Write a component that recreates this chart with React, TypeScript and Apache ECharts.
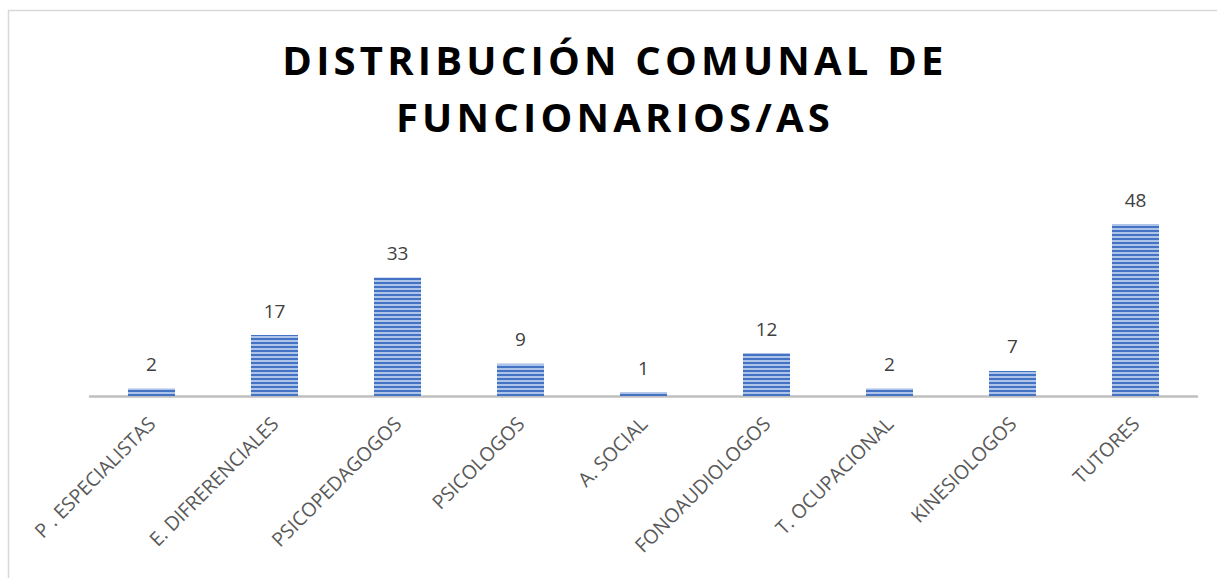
import React, { useEffect, useRef } from "react";
import * as echarts from "echarts";

const categories = [
  "P . ESPECIALISTAS",
  "E. DIFRERENCIALES",
  "PSICOPEDAGOGOS",
  "PSICOLOGOS",
  "A. SOCIAL",
  "FONOAUDIOLOGOS",
  "T. OCUPACIONAL",
  "KINESIOLOGOS",
  "TUTORES",
];
const values = [2, 17, 33, 9, 1, 12, 2, 7, 48];
const titleLines = ["DISTRIBUCIÓN COMUNAL DE", "FUNCIONARIOS/AS"];

export default function App() {
  const ref = useRef<HTMLDivElement>(null);
  useEffect(() => {
    document.body.style.margin = "0";
    if (!ref.current) return;
    const chart = echarts.init(ref.current, null, { renderer: "svg" });
    chart.setOption({
      animation: false,
      backgroundColor: "#ffffff",
      aria: { enabled: false, decal: { show: true } },
      title: {
        text: titleLines.join("\n"),
        left: 610,
        textAlign: "center",
        top: 26,
        textStyle: {
          fontFamily: "Open Sans",
          fontWeight: "bold",
          fontSize: 40,
          lineHeight: 57,
          color: "#000000",
        },
      },
      graphic: [
        {
          type: "rect",
          shape: { x: 8.5, y: 10.5, width: 1300, height: 700 },
          style: { fill: "none", stroke: "#d9d9d9", lineWidth: 1.5 },
          silent: true,
        },
      ],
      grid: { left: 90, right: 20, top: 181, bottom: 182 },
      xAxis: {
        type: "category",
        data: categories,
        axisLine: { lineStyle: { color: "#bfbfbf", width: 2.5 } },
        axisTick: { show: false },
        axisLabel: {
          rotate: 45,
          interval: 0,
          margin: 24,
          fontFamily: "Open Sans",
          fontSize: 19.5,
          color: "#595959",
        },
      },
      yAxis: {
        type: "value",
        min: 0,
        max: 60,
        interval: 10,
        show: false,
        splitLine: { show: false },
      },
      series: [
        {
          type: "bar",
          data: values,
          barWidth: 47,
          itemStyle: {
            color: "#4472c4",
            decal: {
              symbol: "rect",
              symbolSize: 1,
              dashArrayX: [1, 0],
              dashArrayY: [2, 2],
              rotation: 0,
              color: "rgba(220,230,248,0.7)",
            },
          },
          label: {
            show: true,
            position: "top",
            distance: 15,
            fontFamily: "Open Sans",
            fontSize: 19,
            color: "#404040",
          },
        },
      ],
    });
    // Widen the title's letter spacing as in the reference
    const texts = ref.current.querySelectorAll("text");
    texts.forEach((t) => {
      if (titleLines.indexOf((t.textContent || "").trim()) >= 0) {
        (t as SVGTextElement).style.letterSpacing = "4.2px";
      }
    });
    return () => chart.dispose();
  }, []);
  return <div ref={ref} style={{ width: 1217, height: 578 }} />;
}
